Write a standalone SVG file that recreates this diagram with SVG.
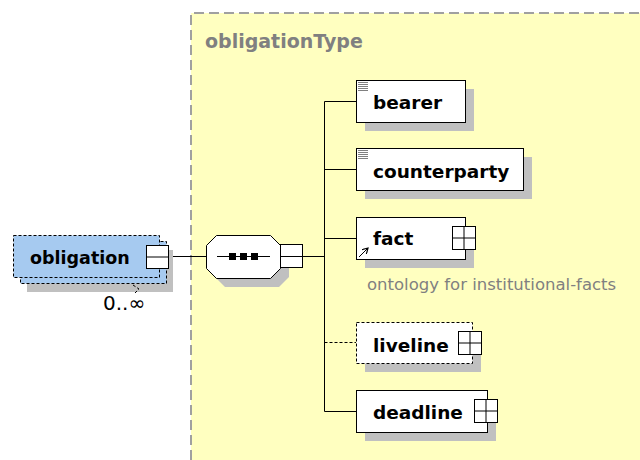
<svg xmlns="http://www.w3.org/2000/svg" width="640" height="460" viewBox="0 0 640 460">
<defs>
<style>
.bg{fill:#FFFFC0;stroke:none}
.frame{fill:none;stroke:#A0A0A0;stroke-width:2;stroke-dasharray:10 5}
.shadow{fill:#C0C0C0;stroke:none}
.box{fill:#FFFFFF;stroke:#000;stroke-width:1}
.dbox{fill:#FFFFFF;stroke:#000;stroke-width:1;stroke-dasharray:3 2}
.blue{fill:#A6CAF0;stroke:#000;stroke-width:1;stroke-dasharray:3 2}
.lbl{font-family:"DejaVu Sans",Verdana,sans-serif;font-weight:bold;font-size:18.5px;fill:#000}
.title{font-family:"DejaVu Sans",Verdana,sans-serif;font-weight:bold;font-size:19px;fill:#808080}
.note{font-family:"DejaVu Sans",Verdana,sans-serif;font-size:16.5px;fill:#808080}
.occ{font-family:"DejaVu Sans",Verdana,sans-serif;font-size:20px;fill:#000}
.line{fill:none;stroke:#000;stroke-width:1}
.dline{fill:none;stroke:#000;stroke-width:1;stroke-dasharray:3 2}
</style>
<g id="plus">
<rect x="0" y="0" width="23" height="23" class="box"/>
<path d="M0,11.5 H23 M11.5,0 V23" class="line"/>
</g>
<marker id="ah" markerWidth="7" markerHeight="7" refX="6" refY="3.5" orient="auto" markerUnits="userSpaceOnUse">
<path d="M0,0 L6,3.5 L0,7" fill="none" stroke="#000" stroke-width="1.2"/>
</marker>
</defs>

<g id="typeArea">
<rect x="191" y="13" width="449" height="447" class="bg"/>
<path d="M191,460 V13 H640" class="frame"/>
<text x="205" y="48" class="title">obligationType</text>
</g>

<g id="connectors">
<path d="M168,256.5 H206" class="line"/>
<path d="M303,256.5 H324.5" class="line"/>
<path d="M324.5,101.5 V411.5" class="line"/>
<path d="M324.5,101.5 H356" class="line"/>
<path d="M324.5,169.5 H356" class="line"/>
<path d="M324.5,238.5 H356" class="line"/>
<path d="M324.5,342.5 H356" class="dline"/>
<path d="M324.5,411.5 H356" class="line"/>
</g>

<g id="obligation">
<rect x="27" y="250" width="146" height="42" class="shadow"/>
<rect x="20.5" y="241.5" width="146" height="42" class="blue"/>
<rect x="13.5" y="235.5" width="146" height="42" class="blue"/>
<rect x="146.5" y="245.5" width="22" height="23" class="box"/>
<path d="M146.5,257 H168.5" class="line"/>
<text x="30" y="264" class="lbl" style="font-size:17.5px">obligation</text>
<path d="M133,285 L139,289 L135,293" class="dline" stroke="#606060"/>
<text x="103" y="310" class="occ">0..∞</text>
</g>

<g id="sequence">
<path d="M225,244 H279 L289,254 V277 L279,287 H225 L215,277 V254 Z" class="shadow"/>
<path d="M216.5,235.5 H270.5 L280.5,245.5 V268.5 L270.5,278.5 H216.5 L206.5,268.5 V245.5 Z" class="box"/>
<path d="M217,256.5 H270" class="line"/>
<rect x="229" y="253" width="7" height="7" fill="#000"/>
<rect x="240" y="253" width="7" height="7" fill="#000"/>
<rect x="251" y="253" width="7" height="7" fill="#000"/>
<rect x="280.5" y="244.5" width="22" height="23" class="box"/>
<path d="M280.5,256.5 H302.5" class="line"/>
</g>

<g id="bearer">
<rect x="365" y="89" width="109" height="42" class="shadow"/>
<rect x="356.5" y="80.5" width="109" height="42" class="box"/>
<path d="M358,82.5 H368 M358,84.5 H368 M358,86.5 H368 M358,88.5 H368 M358,90.5 H368" stroke="#808080" stroke-width="1"/>
<text x="373" y="109" class="lbl">bearer</text>
</g>

<g id="counterparty">
<rect x="365" y="157" width="167" height="42" class="shadow"/>
<rect x="356.5" y="148.5" width="167" height="42" class="box"/>
<path d="M358,150.5 H368 M358,152.5 H368 M358,154.5 H368 M358,156.5 H368 M358,158.5 H368" stroke="#808080" stroke-width="1"/>
<text x="373" y="178" class="lbl">counterparty</text>
</g>

<g id="fact">
<rect x="365" y="226" width="109" height="42" class="shadow"/>
<rect x="356.5" y="217.5" width="109" height="42" class="box"/>
<use href="#plus" x="452.5" y="226.5"/>
<path d="M359,257 L368,248" class="line" stroke-width="1.3" marker-end="url(#ah)"/>
<text x="373" y="245" class="lbl">fact</text>
<text x="367" y="290" class="note">ontology for institutional-facts</text>
</g>

<g id="liveline">
<rect x="365" y="331" width="116" height="41" class="shadow"/>
<rect x="356.5" y="322.5" width="116" height="41" class="dbox"/>
<use href="#plus" x="458.5" y="331.5"/>
<text x="373" y="352" class="lbl">liveline</text>
</g>

<g id="deadline">
<rect x="365" y="399" width="131" height="42" class="shadow"/>
<rect x="356.5" y="390.5" width="131" height="42" class="box"/>
<use href="#plus" x="474.5" y="399.5"/>
<text x="373" y="419" class="lbl">deadline</text>
</g>
</svg>
